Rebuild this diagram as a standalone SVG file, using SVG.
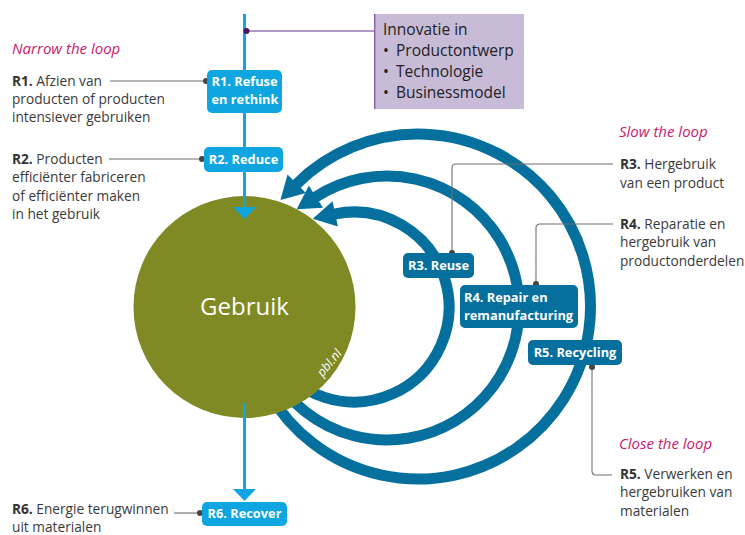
<svg xmlns="http://www.w3.org/2000/svg" xmlns:xlink="http://www.w3.org/1999/xlink" width="745" height="535" viewBox="0 0 745 535">
<style>
text{font-family:"Open Sans","Noto Sans","Liberation Sans",sans-serif;}
.body{font-size:13.7px;fill:#3a3a3a;}
.b{font-weight:700;fill:#333;}
.head{font-size:15px;font-style:italic;fill:#c8196f;}
.lbl{font-size:12.8px;font-weight:700;fill:#fff;}
.lb{fill:#0ea5e0;}
.db{fill:#05709d;}
.loop{fill:none;stroke:#05709d;stroke-width:11;}
.lead{fill:none;stroke:#6f6f6f;stroke-width:1.1;}
.dot{fill:#444;}
.purple{font-size:15.5px;fill:#222;}
</style>
<defs>
<path id="ah" d="M-1,-13 L22,0 L-1,13 Z" fill="#05709d"/>
<path id="ahl" d="M-11.5,-1 L11.5,-1 L0,11 Z" fill="#0ea5e0"/>
</defs>
<rect width="745" height="535" fill="#fff"/>

<g id="connectors">
<path class="loop" d="M268.6,392.75 A172.5,172.5 0 1 0 296.02,184.52"/>
<path class="loop" d="M272.7,374 A132,132 0 1 0 315.1,197.3"/>
<path class="loop" d="M271.7,354.5 A95,95 0 1 0 334.25,214.1"/>
</g>

<g id="gebruik">
<circle cx="244.5" cy="307" r="111" fill="#7f8a24"/>
<text x="244.5" y="315" text-anchor="middle" font-size="24" fill="#fff">Gebruik</text>
<text transform="translate(329.5,363) rotate(-51)" x="0" y="4" text-anchor="middle" font-size="12.5" font-style="italic" fill="#fff">pbl.nl</text>
</g>

<g id="arrowheads">
<use xlink:href="#ah" transform="translate(296.02,184.52) rotate(135)"/>
<use xlink:href="#ah" transform="translate(315.1,197.3) rotate(147)"/>
<use xlink:href="#ah" transform="translate(334.25,214.1) rotate(168)"/>
</g>

<g id="flow">
<line x1="244.5" y1="14" x2="244.5" y2="208" stroke="#0ea5e0" stroke-width="3"/>
<use xlink:href="#ahl" transform="translate(244.5,208)"/>
<line x1="244.5" y1="403" x2="244.5" y2="490" stroke="#0ea5e0" stroke-width="3"/>
<use xlink:href="#ahl" transform="translate(244.5,490)"/>
<line x1="246.5" y1="31" x2="374" y2="31" stroke="#9476b6" stroke-width="1.3"/>
<circle cx="246.5" cy="31" r="3" fill="#4a1a5c"/>
</g>

<g id="leaders">
<line class="lead" x1="110" y1="81" x2="206" y2="81"/>
<circle class="dot" cx="206" cy="81" r="3"/>
<line class="lead" x1="109" y1="159" x2="202" y2="159"/>
<circle class="dot" cx="202" cy="159" r="3"/>
<line class="lead" x1="174" y1="513" x2="200" y2="513"/>
<circle class="dot" cx="200" cy="513" r="3"/>
<path class="lead" d="M613,164 H456 Q452,164 452,168 V253"/>
<circle class="dot" cx="452" cy="253" r="3"/>
<path class="lead" d="M613,224 H540 Q536,224 536,228 V284"/>
<circle class="dot" cx="536" cy="284" r="3"/>
<path class="lead" d="M592,367 V471 Q592,475 596,475 H612"/>
<circle class="dot" cx="592" cy="367" r="3"/>
</g>

<g id="innovatie">
<rect x="374" y="14" width="150" height="95" fill="#c7bbd8"/>
<line x1="374.7" y1="14" x2="374.7" y2="109" stroke="#8a63ad" stroke-width="1.5"/>
<text class="purple" x="383" y="35">Innovatie in</text>
<text class="purple" x="383" y="56">•<tspan x="396">Productontwerp</tspan></text>
<text class="purple" x="383" y="77">•<tspan x="396">Technologie</tspan></text>
<text class="purple" x="383" y="98">•<tspan x="396">Businessmodel</tspan></text>
</g>

<g id="r1">
<rect class="lb" x="207" y="70" width="75" height="43" rx="5"/>
<text class="lbl" x="211.5" y="86">R1. Refuse</text>
<text class="lbl" x="211.5" y="104">en rethink</text>
</g>
<g id="r2">
<rect class="lb" x="204" y="147" width="79" height="25" rx="5"/>
<text class="lbl" x="243.5" y="164" text-anchor="middle">R2. Reduce</text>
</g>
<g id="r6">
<rect class="lb" x="202" y="502" width="85" height="24" rx="5"/>
<text class="lbl" x="244.5" y="518" text-anchor="middle">R6. Recover</text>
</g>
<g id="r3">
<rect class="db" x="403" y="253" width="71" height="25" rx="5"/>
<text class="lbl" x="438.5" y="270" text-anchor="middle">R3. Reuse</text>
</g>
<g id="r4">
<rect class="db" x="460" y="285" width="118" height="43" rx="5"/>
<text class="lbl" x="464" y="301.5">R4. Repair en</text>
<text class="lbl" x="464" y="320">remanufacturing</text>
</g>
<g id="r5">
<rect class="db" x="528" y="340" width="94" height="25" rx="5"/>
<text class="lbl" x="575" y="357" text-anchor="middle">R5. Recycling</text>
</g>

<g id="texts-left">
<text class="head" x="12" y="54">Narrow the loop</text>
<text class="body" x="12" y="86"><tspan class="b">R1.</tspan> Afzien van</text>
<text class="body" x="12" y="104">producten of producten</text>
<text class="body" x="12" y="122">intensiever gebruiken</text>
<text class="body" x="12" y="163.5"><tspan class="b">R2.</tspan> Producten</text>
<text class="body" x="12" y="182">efficiënter fabriceren</text>
<text class="body" x="12" y="200.5">of efficiënter maken</text>
<text class="body" x="12" y="219">in het gebruik</text>
<text class="body" x="12" y="513.5"><tspan class="b">R6.</tspan> Energie terugwinnen</text>
<text class="body" x="12" y="531.5">uit materialen</text>
</g>

<g id="texts-right">
<text class="head" x="619" y="137">Slow the loop</text>
<text class="body" x="620" y="168.5"><tspan class="b">R3.</tspan> Hergebruik</text>
<text class="body" x="620" y="187.5">van een product</text>
<text class="body" x="620" y="228.5"><tspan class="b">R4.</tspan> Reparatie en</text>
<text class="body" x="620" y="247">hergebruik van</text>
<text class="body" x="620" y="266">productonderdelen</text>
<text class="head" x="619" y="448.5">Close the loop</text>
<text class="body" x="620" y="478.5"><tspan class="b">R5.</tspan> Verwerken en</text>
<text class="body" x="620" y="497">hergebruiken van</text>
<text class="body" x="620" y="515.5">materialen</text>
</g>
</svg>
